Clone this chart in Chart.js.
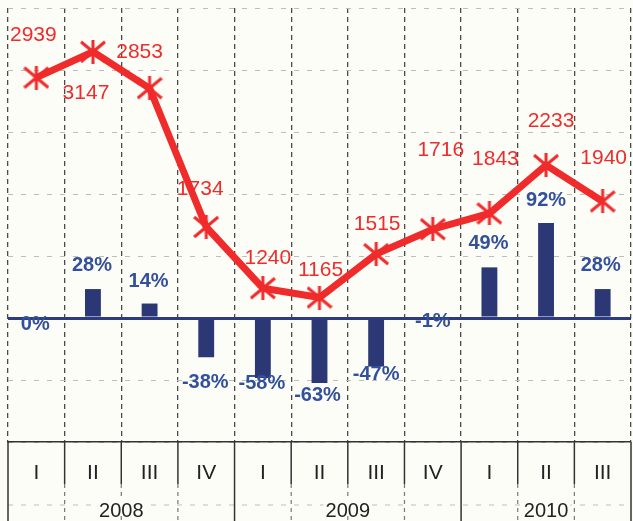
<!DOCTYPE html>
<html>
<head>
<meta charset="utf-8">
<script src="https://cdn.jsdelivr.net/npm/chart.js@4.4.1/dist/chart.umd.min.js"></script>
<style>
  body { margin: 0; background: #fdfdf8; }
  canvas { display: block; background: #fdfdf8; }
</style>
</head>
<body>
<canvas id="salesChart" width="633" height="521"></canvas>
<script>
// кварталы и годы
const quarters = ['I', 'II', 'III', 'IV', 'I', 'II', 'III', 'IV', 'I', 'II', 'III'];
const quarterYears = ['2008', '2008', '2008', '2008', '2009', '2009', '2009', '2009', '2010', '2010', '2010'];
// объём (красная линия)
const volumes = [2939, 3147, 2853, 1734, 1240, 1165, 1515, 1716, 1843, 2233, 1940];
// изменение к прошлому году, % (столбики)
const changes = [0, 28, 14, -38, -58, -63, -47, -1, 49, 92, 28];

// сдвиги подписей относительно точек [dx, dy]
const volumeLabelShift = [[-3, -42], [-7, 41], [-10, -36], [-6, -38], [5, -30], [1, -27],
  [1, -30], [8, -79], [6, -54], [5, -44], [1, -43]];
const changeLabelShift = [[-1, 6], [-1, -24], [-1, -22], [-1, 25], [-1, 6], [-2, 12],
  [0, 8], [0, 2], [-1, -24], [0, -22], [-2, -24]];

const RED = '#f02b2b';
const NAVY = '#2b3875';

function makeAsterisk() {
  const c = document.createElement('canvas');
  c.width = 26; c.height = 24;
  const g = c.getContext('2d');
  g.strokeStyle = RED;
  g.lineWidth = 3;
  g.beginPath();
  g.moveTo(1, 2); g.lineTo(25, 22);
  g.moveTo(25, 2); g.lineTo(1, 22);
  g.moveTo(13, 0); g.lineTo(13, 24);
  g.stroke();
  return c;
}

// подписи значений
const valueLabels = {
  id: 'valueLabels',
  afterDatasetsDraw(chart) {
    const ctx = chart.ctx;
    const lineMeta = chart.getDatasetMeta(0);
    const barMeta = chart.getDatasetMeta(1);
    ctx.save();
    ctx.textAlign = 'center';
    ctx.textBaseline = 'middle';
    ctx.font = 'bold 20px "Liberation Sans", Arial, sans-serif';
    ctx.fillStyle = '#33509b';
    barMeta.data.forEach((bar, i) => {
      const [dx, dy] = changeLabelShift[i];
      ctx.fillText(changes[i] + '%', bar.x + dx, bar.y + dy);
    });
    ctx.font = '21px "Liberation Sans", Arial, sans-serif';
    ctx.fillStyle = RED;
    lineMeta.data.forEach((pt, i) => {
      const [dx, dy] = volumeLabelShift[i];
      ctx.fillText(String(volumes[i]), pt.x + dx, pt.y + dy);
    });
    ctx.restore();
  }
};

// таблица под графиком: кварталы + годы
const quarterTable = {
  id: 'quarterTable',
  afterDraw(chart) {
    const { ctx, chartArea } = chart;
    const x = chart.scales.x;
    const step = (chartArea.right - chartArea.left) / quarters.length;
    const top = chartArea.bottom;
    const rowEnd = top + 42;
    const bottom = chart.height;
    const edge = i => chartArea.left + i * step;
    const isYearEdge = i => i === 0 || i === quarters.length || quarterYears[i] !== quarterYears[i - 1];

    ctx.save();
    // пунктир в строке годов
    ctx.setLineDash([5, 8]);
    ctx.strokeStyle = '#bdbdbd';
    ctx.lineWidth = 1;
    ctx.beginPath();
    ctx.moveTo(chartArea.left, top + 63);
    ctx.lineTo(chartArea.right, top + 63);
    ctx.stroke();
    ctx.setLineDash([4, 4]);
    ctx.strokeStyle = '#777';
    ctx.lineWidth = 1.2;
    for (let i = 1; i < quarters.length; i++) {
      if (isYearEdge(i)) continue;
      ctx.beginPath();
      ctx.moveTo(edge(i), rowEnd);
      ctx.lineTo(edge(i), bottom);
      ctx.stroke();
    }
    // сплошные линии
    ctx.setLineDash([]);
    ctx.strokeStyle = '#333';
    ctx.lineWidth = 1.5;
    for (let i = 0; i <= quarters.length; i++) {
      ctx.beginPath();
      ctx.moveTo(edge(i), top);
      ctx.lineTo(edge(i), isYearEdge(i) ? bottom : rowEnd);
      ctx.stroke();
    }
    // подписи годов
    ctx.font = '20px "Liberation Sans", Arial, sans-serif';
    ctx.textAlign = 'center';
    ctx.textBaseline = 'middle';
    let start = 0;
    for (let i = 1; i <= quarters.length; i++) {
      if (i === quarters.length || quarterYears[i] !== quarterYears[start]) {
        const cx = (x.getPixelForValue(start) + x.getPixelForValue(i - 1)) / 2;
        const w = ctx.measureText(quarterYears[start]).width;
        ctx.fillStyle = '#fdfdf8';
        ctx.fillRect(cx - w / 2 - 2, top + 56, w + 4, 14);
        ctx.fillStyle = '#222';
        ctx.fillText(quarterYears[start], cx, top + 69);
        start = i;
      }
    }
    ctx.restore();
  }
};

let canvas = document.getElementById('salesChart').getContext('2d');

let chart = new Chart(canvas, {
  type: 'bar',
  data: {
    labels: quarters,
    datasets: [{
      type: 'line',
      data: volumes,
      yAxisID: 'yVol',
      borderColor: RED,
      borderWidth: 7,
      tension: 0,
      pointStyle: makeAsterisk(),
      pointRadius: 12,
      order: 0
    }, {
      type: 'bar',
      data: changes,
      yAxisID: 'yPct',
      backgroundColor: NAVY,
      barPercentage: 0.28,
      categoryPercentage: 1,
      order: 1
    }]
  },
  options: {
    responsive: false,
    animation: false,
    layout: { autoPadding: false, padding: { left: 8, right: 2, top: 8, bottom: 0 } },
    plugins: { legend: { display: false }, tooltip: { enabled: false } },
    scales: {
      x: {
        grid: { color: '#4a4a4a', lineWidth: 1.3, drawTicks: false, offset: true },
        border: { display: true, color: '#333', width: 1.5, dash: [5, 4] },
        ticks: { font: { family: '"Liberation Sans", Arial, sans-serif', size: 21 }, color: '#222', padding: 19 },
        afterFit: s => { s.height = 79; s.paddingLeft = 0; s.paddingRight = 0; }
      },
      yVol: {
        position: 'left',
        min: 0,
        max: 3500,
        ticks: { display: false, stepSize: 500 },
        grid: { color: '#bdbdbd', lineWidth: 1, drawTicks: false },
        border: { display: false, dash: [5, 8] },
        afterFit: s => { s.width = 0; s.paddingTop = 0; s.paddingBottom = 0; }
      },
      yPct: {
        position: 'right',
        min: -120,
        max: 300,
        ticks: { display: false, stepSize: 60 },
        grid: {
          drawTicks: false,
          color: c => c.tick && c.tick.value === 0 ? '#2e3b80' : 'rgba(0,0,0,0)',
          lineWidth: c => c.tick && c.tick.value === 0 ? 3 : 0
        },
        border: { display: false },
        afterFit: s => { s.width = 0; s.paddingTop = 0; s.paddingBottom = 0; }
      }
    }
  },
  plugins: [valueLabels, quarterTable]
});
</script>
</body>
</html>
